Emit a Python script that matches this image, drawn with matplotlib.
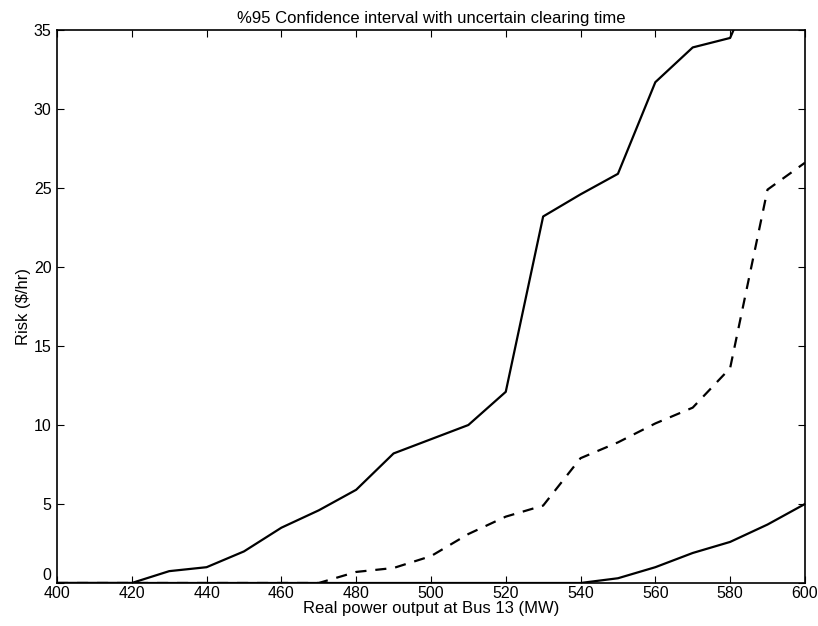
import matplotlib
matplotlib.use("Agg")
import matplotlib.pyplot as plt

plt.rcParams['font.family'] = ['Liberation Sans', 'DejaVu Sans']

# real power output at bus 13 (MW)
power = [400, 410, 420, 430, 440, 450, 460, 470, 480, 490, 500,
         510, 520, 530, 540, 550, 560, 570, 580, 590, 600]

# upper 95% bound, risk ($/hr)
risk_upper = [0, 0, 0, 0.75, 1.0, 2.0, 3.5, 4.6, 5.9, 8.2, 9.1,
              10.0, 12.1, 23.2, 24.6, 25.9, 31.7, 33.9, 34.5, 40.0, 45.0]
# mean risk
risk_mean = [0, 0, 0, 0, 0, 0, 0, 0, 0.7, 0.95, 1.7,
             3.1, 4.2, 4.9, 7.9, 8.9, 10.1, 11.1, 13.6, 24.9, 26.6]
# lower 95% bound
risk_lower = [0, 0, 0, 0, 0, 0, 0, 0, 0, 0, 0,
              0, 0, 0, 0, 0.3, 1.0, 1.9, 2.6, 3.7, 5.0]

fig = plt.figure(figsize=(8.18, 6.26), dpi=100)
ax = fig.add_axes([0.0697, 0.0687, 0.9143, 0.8833])

ax.plot(power, risk_upper, color='black', linewidth=1.6)
ax.plot(power, risk_mean, color='black', linewidth=1.6, linestyle=(0, (5, 4)))
ax.plot(power, risk_lower, color='black', linewidth=1.6)

ax.set_xlim(400, 600)
ax.set_ylim(0, 35)
ax.set_xticks(range(400, 601, 20))
ax.set_yticks(range(0, 36, 5))
ax.tick_params(direction='in', top=True, right=True, length=5, labelsize=11.5)
ax.tick_params(axis='x', pad=2)
ax.tick_params(axis='y', pad=4)
# lift the zero label a little so it clears the 400 below it
ax.get_yticklabels()[0].set_verticalalignment('bottom')
for s in ax.spines.values():
    s.set_linewidth(1.2)

ax.set_xlabel('Real power output at Bus 13 (MW)', fontsize=12, labelpad=0)
ax.set_ylabel('Risk ($/hr)', fontsize=12, labelpad=2)
ax.set_title('%95 Confidence interval with uncertain clearing time', fontsize=12, pad=5)

fig.savefig('out.png', dpi=100)
